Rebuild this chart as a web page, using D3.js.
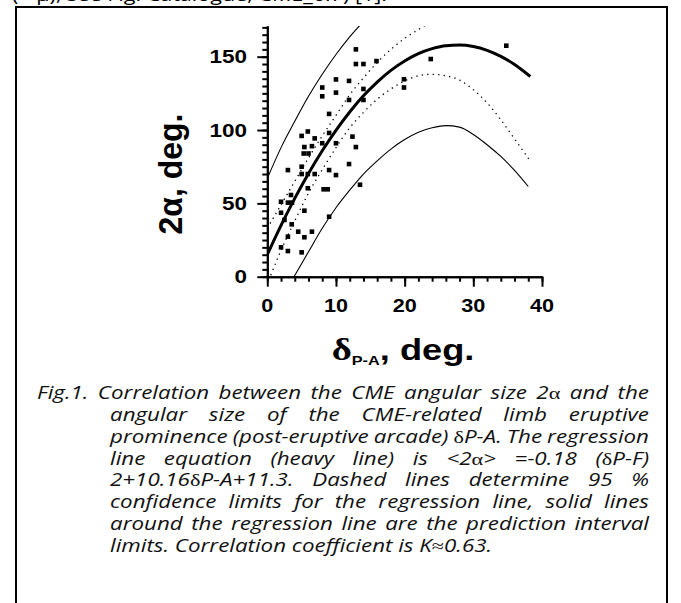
<!DOCTYPE html>
<html><head><meta charset="utf-8">
<script src="https://cdn.jsdelivr.net/npm/d3@7"></script>
<style>body{margin:0;background:#fff}svg{display:block}</style>
</head><body>
<svg id="c" width="681" height="603"></svg>
<script>
// ---- data ----
const xTicks = [0, 10, 20, 30, 40];
const yTicks = [0, 50, 100, 150];
const xMinor = d3.range(0, 41, 2);
const yMinor = d3.range(0, 171, 5);

const pointsX = [12.9,12.9,14.0,15.9,11.9,10.0,10.0,8.0,8.0,11.9,14.0,14.0,9.0,5.0,5.9,6.9,9.0,12.4,12.9,5.4,6.5,8.0,10.0,5.3,6.0,5.0,3.0,11.9,5.0,5.9,6.9,9.0,10.0,5.9,8.2,8.8,13.5,3.45,2.0,3.0,3.6,2.0,2.5,3.55,5.4,9.0,3.0,4.5,6.5,5.4,2.0,3.0,5.0,19.9,19.9,23.8,34.8];
const pointsY = [155,145,145,147,133.5,134.5,125.5,129,123,120.5,128,120.5,111,96,99,94.3,98,95.5,88.4,88.4,89,91,91,84,84,75,72.7,76.8,70,70,70,72.7,69.3,60.3,59.6,59.6,62.7,55.7,51.1,50.5,50.5,43.6,38.7,35.7,45,40.9,27.3,30.7,30.7,26.9,20,17.5,16.6,134.6,129,148.4,157.5];

const regX = [0,2,4,6,8,10,12,14,16,18,20,22,24,26,28,30,32,34,36,38.3];
const regY = [15,35,53.4,70.4,85.9,99.8,112.3,123.3,132.7,140.7,147.1,152.1,155.5,157.5,157.9,156.9,154.3,150.2,144.7,136.5];

const confUpX = [0,2,4,6,8,10,12,14,16,18,20,22,23.2];
const confUpY = [33,49,65,81,96,110,124,135.5,146,155,162.5,168.5,172];
const confLoX = [0.5,2,4,6,8,10,12,14,16,18,20,22,24,26,28,30,32,34,36,38.2];
const confLoY = [1,18,38,57,73,88,101.5,112,121,128,133.5,137,138,137,134,127.5,118.5,107,94,79.5];

const predUpX = [0,2,4,6,8,10,12,13.8];
const predUpY = [67,88,106,123,138,151.5,163.5,173];
const predLoX = [3.9,6,8,10,12,14,16,18,20,22,24,26,28,30,32,34,36,38];
const predLoY = [0,17,33,47,59,70,79,87,93.5,98.5,101.5,103,102,97,90,82,72.5,61.5];

const captionLines = [
  "Fig.1. Correlation between the CME angular size 2α and the",
  "angular size of the CME-related limb eruptive",
  "prominence (post-eruptive arcade) δP-A. The regression",
  "line equation (heavy line) is <2α> =-0.18 (δP-F)",
  "2+10.16δP-A+11.3. Dashed lines determine 95 %",
  "confidence limits for the regression line, solid lines",
  "around the regression line are the prediction interval",
  "limits. Correlation coefficient is K≈0.63."
];
const topText = "(~ μ), see Fig. Catalogue, CME_6.7) [1].";

// ---- drawing ----
const svg = d3.select("#c");
const x = d3.scaleLinear().domain([0, 40]).range([267.3, 542]);
const y = d3.scaleLinear().domain([0, 171]).range([276.7, 276.7 - 171 * 1.4667]);
const sans = "'Liberation Sans', Arial, sans-serif";
const capFont = "'Open Sans', sans-serif";
const stretch = 1.27;

// clipped top text (cut off by the page edge, as in the reference)
svg.append("text").attr("x", 12).attr("y", 0.5)
  .attr("font-family", capFont).attr("font-size", 18)
  .attr("textLength", 375).attr("lengthAdjust", "spacingAndGlyphs")
  .text(topText);

// frame
svg.append("rect").attr("x", 16).attr("y", 7).attr("width", 651).attr("height", 640)
  .attr("fill", "none").attr("stroke", "#000").attr("stroke-width", 2);

// axes
function styleAxis(g) {
  g.selectAll("path,line").attr("stroke", "#000").attr("stroke-width", 2);
  g.selectAll("text").remove();
}
const gx = svg.append("g").attr("transform", `translate(0,${y(0)})`);
gx.append("g").call(d3.axisBottom(x).tickValues(xMinor).tickSize(5).tickSizeOuter(0)).call(styleAxis);
gx.append("g").call(d3.axisBottom(x).tickValues(xTicks).tickSize(10).tickSizeOuter(0)).call(styleAxis);
const gy = svg.append("g").attr("transform", `translate(${x(0)},0)`);
gy.append("g").call(d3.axisLeft(y).tickValues(yMinor).tickSize(5).tickSizeOuter(0)).call(styleAxis);
gy.append("g").call(d3.axisLeft(y).tickValues(yTicks).tickSize(10).tickSizeOuter(0)).call(styleAxis);

// tick labels
yTicks.forEach(v => {
  svg.append("text").attr("transform", `translate(247,${y(v)}) scale(1.25,1)`)
    .attr("dy", "0.36em").attr("text-anchor", "end")
    .attr("font-family", sans).attr("font-weight", "bold").attr("font-size", 18).text(v);
});
xTicks.forEach(v => {
  svg.append("text").attr("transform", `translate(${x(v)},312) scale(1.2,1)`)
    .attr("text-anchor", "middle")
    .attr("font-family", sans).attr("font-weight", "bold").attr("font-size", 18).text(v);
});

// axis titles
svg.append("text").attr("transform", "translate(182,174) scale(1.05,1) rotate(-90)")
  .attr("text-anchor", "middle").attr("font-family", sans).attr("font-weight", "bold").attr("font-size", 32)
  .text("2α, deg.");
const xt = svg.append("text").attr("transform", "translate(403,360) scale(1.25,1)")
  .attr("text-anchor", "middle").attr("font-family", sans).attr("font-weight", "bold");
xt.append("tspan").attr("font-family", "'Liberation Serif', serif").attr("font-size", 31).text("δ");
xt.append("tspan").attr("font-size", 13).attr("dy", 5).text("P-A");
xt.append("tspan").attr("font-size", 29).attr("dy", -5).text(", deg.");

// curves
svg.append("clipPath").attr("id", "clip").append("rect")
  .attr("x", x(0)).attr("y", y(171)).attr("width", x(40) - x(0) + 10).attr("height", y(0) - y(171));
const plot = svg.append("g").attr("clip-path", "url(#clip)");
const line = d3.line().x(d => x(d[0])).y(d => y(d[1])).curve(d3.curveMonotoneX);
const zip = (a, b) => a.map((v, i) => [v, b[i]]);

plot.append("path").datum(zip(predUpX, predUpY)).attr("d", line)
  .attr("fill", "none").attr("stroke", "#000").attr("stroke-width", 1.1);
plot.append("path").datum(zip(predLoX, predLoY)).attr("d", line)
  .attr("fill", "none").attr("stroke", "#000").attr("stroke-width", 1.1);
plot.append("path").datum(zip(confUpX, confUpY)).attr("d", line)
  .attr("fill", "none").attr("stroke", "#000").attr("stroke-width", 1.3).attr("stroke-dasharray", "1.3,4.2");
plot.append("path").datum(zip(confLoX, confLoY)).attr("d", line)
  .attr("fill", "none").attr("stroke", "#000").attr("stroke-width", 1.3).attr("stroke-dasharray", "1.3,4.2");
plot.append("path").datum(zip(regX, regY)).attr("d", line)
  .attr("fill", "none").attr("stroke", "#000").attr("stroke-width", 3);

// points
svg.append("g").selectAll("rect").data(zip(pointsX, pointsY)).join("rect")
  .attr("x", d => x(d[0]) - 2.3).attr("y", d => y(d[1]) - 2.3)
  .attr("width", 4.6).attr("height", 4.6).attr("fill", "#000");

// caption
const greek = /[αδ≈]/;
function addRuns(t, str) {
  let runs = [], cur = "", curG = null;
  for (const ch of str) {
    const g = greek.test(ch);
    if (curG === null || g === curG) { cur += ch; curG = g; }
    else { runs.push([cur, curG]); cur = ch; curG = g; }
  }
  if (cur) runs.push([cur, curG]);
  runs.forEach(([s, g]) => {
    const ts = t.append("tspan").text(s);
    if (g) ts.attr("font-family", "'Liberation Serif', serif").attr("font-style", "normal").attr("font-size", 17.5);
  });
}
const cap = svg.append("g").attr("transform", `scale(${stretch},1)`)
  .attr("font-family", capFont).attr("font-style", "italic").attr("font-size", 17.6).attr("fill", "#111");
const right = 649 / stretch, base0 = 399.3, lh = 21.8;
captionLines.forEach((ln, i) => {
  const left = (i === 0 ? 37 : 110) / stretch;
  const by = base0 + i * lh;
  if (i === captionLines.length - 1) {
    const t = cap.append("text").attr("x", left).attr("y", by).attr("xml:space", "preserve");
    addRuns(t, ln);
    return;
  }
  const words = ln.split(" ");
  const nodes = words.map(w => { const t = cap.append("text").attr("y", by); addRuns(t, w); return t; });
  const widths = nodes.map(n => n.node().getComputedTextLength());
  const total = d3.sum(widths);
  const gap = (right - left - total) / (words.length - 1);
  let cx = left;
  nodes.forEach((n, k) => { n.attr("x", cx); cx += widths[k] + gap; });
});
</script>
</body></html>
